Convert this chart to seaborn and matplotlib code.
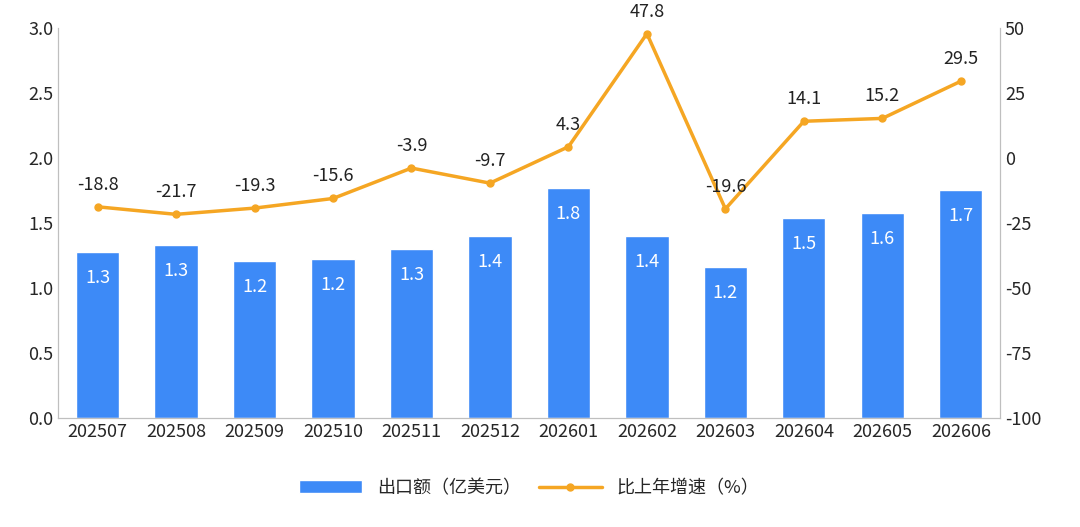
import matplotlib
matplotlib.use("Agg")
import numpy as np
import pandas as pd
import seaborn as sns
import matplotlib.pyplot as plt

months = ["202507", "202508", "202509", "202510", "202511", "202512",
          "202601", "202602", "202603", "202604", "202605", "202606"]
export_value = [1.28, 1.33, 1.21, 1.22, 1.30, 1.40, 1.77, 1.40, 1.16, 1.54, 1.58, 1.75]
export_labels = ["1.3", "1.3", "1.2", "1.2", "1.3", "1.4", "1.8", "1.4", "1.2", "1.5", "1.6", "1.7"]
growth = [-18.8, -21.7, -19.3, -15.6, -3.9, -9.7, 4.3, 47.8, -19.6, 14.1, 15.2, 29.5]

sns.set_style("white")
plt.rcParams["font.family"] = ["Noto Sans CJK SC", "DejaVu Sans"]
plt.rcParams["axes.unicode_minus"] = False

bar_color = "#3d8af7"
line_color = "#f5a623"

df = pd.DataFrame({"month": months, "value": export_value, "growth": growth})

fig = plt.figure(figsize=(10.8, 5.27), dpi=100)
ax = fig.add_axes([0.054, 0.207, 0.872, 0.74])
sns.barplot(data=df, x="month", y="value", color=bar_color, width=0.55,
            saturation=1, ax=ax, label="出口额（亿美元）")
for i, lab in enumerate(export_labels):
    ax.text(i, export_value[i] - 0.2, lab, ha="center", va="center",
            color="white", fontsize=13)
ax.set_ylim(0, 3.0)
ax.set_yticks(np.arange(0, 3.01, 0.5))
ax.set_yticklabels([f"{v:.1f}" for v in np.arange(0, 3.01, 0.5)])
ax.set_xlabel("")
ax.set_ylabel("")
ax.tick_params(labelsize=13, length=0)
ax.set_xlim(-0.5, len(months) - 0.5)

ax2 = ax.twinx()
x = np.arange(len(months))
ax2.plot(x, growth, color=line_color, lw=2.5, marker="o", markersize=5,
         label="比上年增速（%）")
for i, g in enumerate(growth):
    ax2.text(i, g + 5, f"{g}", ha="center", va="bottom", fontsize=13,
             color="#222222", clip_on=False)
ax2.set_ylim(-100, 50)
ax2.set_yticks(range(-100, 51, 25))
ax2.tick_params(labelsize=13, length=0)

for a in (ax, ax2):
    a.spines["top"].set_visible(False)
    for s in ("left", "right", "bottom"):
        a.spines[s].set_color("#bfbfbf")

h1, l1 = ax.get_legend_handles_labels()
h2, l2 = ax2.get_legend_handles_labels()
ax.legend(h1 + h2, l1 + l2, loc="upper center", bbox_to_anchor=(0.5, -0.115),
          ncol=2, frameon=False, fontsize=13, handlelength=3.5, columnspacing=1)

fig.savefig("out.png", dpi=100)
